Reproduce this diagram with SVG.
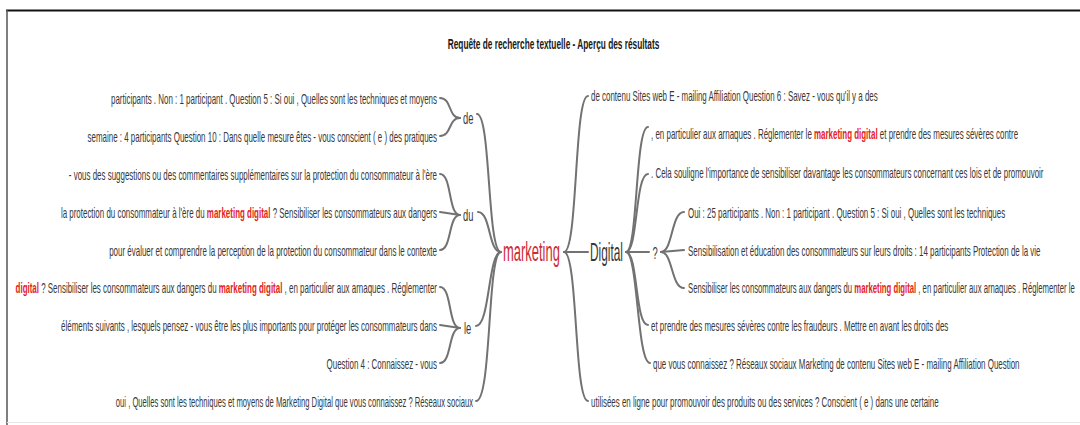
<svg xmlns="http://www.w3.org/2000/svg" width="1080" height="425" viewBox="0 0 1080 425">
<style>
.t{font-family:"Liberation Sans",Arial,sans-serif;font-size:15px;fill:#383838}
.l{text-anchor:end}
.h{font-weight:bold;fill:#e3231c}
.w{font-family:"Liberation Sans",Arial,sans-serif;font-size:17px;fill:#383838}
.title{font-family:"Liberation Sans",Arial,sans-serif;font-size:15px;font-weight:bold;fill:#1a1a1a;text-anchor:middle}
.c{fill:none;stroke:#727272;stroke-width:2;stroke-linecap:round}
</style>
<rect width="1080" height="425" fill="#ffffff"/>
<g id="frame">
<line x1="6" y1="10.5" x2="1080" y2="10.5" stroke="#111" stroke-width="2"/>
<line x1="7" y1="10" x2="7" y2="425" stroke="#555" stroke-width="1.5"/>
<line x1="7" y1="422.5" x2="1080" y2="422.5" stroke="#e6e6e6" stroke-width="1"/>
</g>
<text id="title" class="title" transform="translate(553.5 49) scale(.553 1)">Requête de recherche textuelle - Aperçu des résultats</text>
<g id="connectors">
<path class="c" d="M440,98 C452,98 448,118 460,118"/>
<path class="c" d="M440,136 C452,136 448,118 460,118"/>
<path class="c" d="M440,174 C452,174 448,215 460,215"/>
<path class="c" d="M440,212 L460,215"/>
<path class="c" d="M440,250 C452,250 448,215 460,215"/>
<path class="c" d="M440,287 C452,287 448,328 460,328"/>
<path class="c" d="M440,325 L460,328"/>
<path class="c" d="M440,363 C452,363 448,328 460,328"/>
<path class="c" d="M477,114 C491,114 487,252 501,252"/>
<path class="c" d="M478,212 C491,212 488,252 501,252"/>
<path class="c" d="M476,326 C490,326 488,252 501,252"/>
<path class="c" d="M476,401 C492,401 487,252 501,252"/>
<path class="c" d="M564,252 C578,252 574,96 588,96"/>
<path class="c" d="M564,252 L588,252"/>
<path class="c" d="M564,252 C578,252 574,401 588,401"/>
<path class="c" d="M626,252 C638,252 635,127 648,127"/>
<path class="c" d="M626,252 C638,252 635,174 648,174"/>
<path class="c" d="M626,252 L649,252"/>
<path class="c" d="M626,252 C638,252 635,325 648,325"/>
<path class="c" d="M626,252 C638,252 637,363 650,363"/>
<path class="c" d="M661,252 C673,252 671,212 684,212"/>
<path class="c" d="M661,252 L684,250"/>
<path class="c" d="M661,252 C673,252 671,288 684,288"/>
</g>
<g id="node-marketing"><text transform="translate(503 261) scale(.48 1)" style="font-family:'Liberation Sans',Arial,sans-serif;font-size:27px;fill:#cf2a35">marketing</text></g>
<g id="node-de"><text class="w" transform="translate(463 123.5) scale(.55 1)">de</text></g>
<g id="node-du"><text class="w" transform="translate(463 220.5) scale(.55 1)">du</text></g>
<g id="node-le"><text class="w" transform="translate(464 333.5) scale(.55 1)">le</text></g>
<g id="node-digital"><text transform="translate(590 261) scale(.475 1)" style="font-family:'Liberation Sans',Arial,sans-serif;font-size:25px;fill:#383838">Digital</text></g>
<g id="node-q"><text class="w" transform="translate(652.5 258.5) scale(.55 1)">?</text></g>
<g id="left-texts">
<text class="t l" transform="translate(437 104) scale(.53 1)">participants . Non : 1 participant . Question 5 : Si oui , Quelles sont les techniques et moyens</text>
<text class="t l" transform="translate(437 142) scale(.53 1)">semaine : 4 participants Question 10 : Dans quelle mesure êtes - vous conscient ( e ) des pratiques</text>
<text class="t l" transform="translate(437 180) scale(.53 1)">- vous des suggestions ou des commentaires supplémentaires sur la protection du consommateur à l'ère</text>
<text class="t l" transform="translate(437 218) scale(.53 1)">la protection du consommateur à l'ère du <tspan class="h">marketing digital</tspan> ? Sensibiliser les consommateurs aux dangers</text>
<text class="t l" transform="translate(437 256) scale(.53 1)">pour évaluer et comprendre la perception de la protection du consommateur dans le contexte</text>
<text class="t l" transform="translate(437 293) scale(.53 1)"><tspan class="h">digital</tspan> ? Sensibiliser les consommateurs aux dangers du <tspan class="h">marketing digital</tspan> , en particulier aux arnaques . Réglementer</text>
<text class="t l" transform="translate(437 331) scale(.53 1)">éléments suivants , lesquels pensez - vous être les plus importants pour protéger les consommateurs dans</text>
<text class="t l" transform="translate(437 369) scale(.53 1)">Question 4 : Connaissez - vous</text>
<text class="t l" transform="translate(473 407) scale(.51 1)">oui , Quelles sont les techniques et moyens de Marketing Digital que vous connaissez ? Réseaux sociaux</text>
</g>
<g id="right-texts">
<text class="t" transform="translate(591 101) scale(.53 1)">de contenu Sites web E - mailing Affiliation Question 6 : Savez - vous qu'il y a des</text>
<text class="t" transform="translate(651 139) scale(.53 1)">, en particulier aux arnaques . Réglementer le <tspan class="h">marketing digital</tspan> et prendre des mesures sévères contre</text>
<text class="t" transform="translate(651 178) scale(.53 1)">. Cela souligne l'importance de sensibiliser davantage les consommateurs concernant ces lois et de promouvoir</text>
<text class="t" transform="translate(688 218) scale(.53 1)">Oui : 25 participants . Non : 1 participant . Question 5 : Si oui , Quelles sont les techniques</text>
<text class="t" transform="translate(688 256) scale(.53 1)">Sensibilisation et éducation des consommateurs sur leurs droits : 14 participants Protection de la vie</text>
<text class="t" transform="translate(688 293) scale(.516 1)">Sensibiliser les consommateurs aux dangers du <tspan class="h">marketing digital</tspan> , en particulier aux arnaques . Réglementer le</text>
<text class="t" transform="translate(651 331) scale(.53 1)">et prendre des mesures sévères contre les fraudeurs . Mettre en avant les droits des</text>
<text class="t" transform="translate(653 369) scale(.53 1)">que vous connaissez ? Réseaux sociaux Marketing de contenu Sites web E - mailing Affiliation Question</text>
<text class="t" transform="translate(591 407) scale(.53 1)">utilisées en ligne pour promouvoir des produits ou des services ? Conscient ( e ) dans une certaine</text>
</g>
</svg>
